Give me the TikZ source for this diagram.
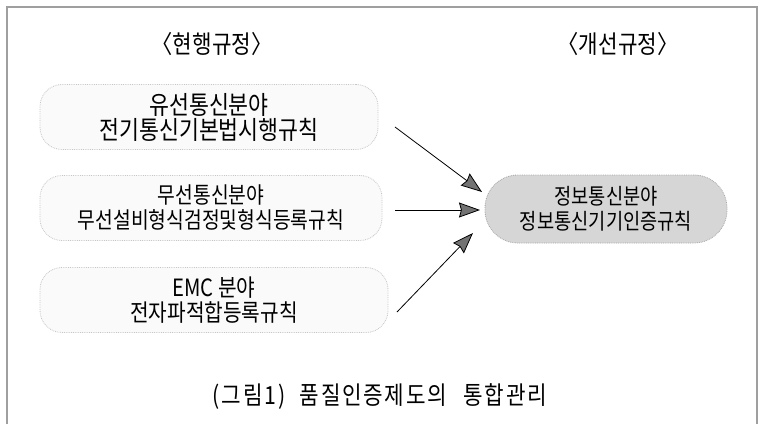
\documentclass[tikz,border=0pt]{standalone}
\usepackage{fontspec}
\setmainfont{Noto Sans CJK KR}[FakeStretch=0.85]
\usetikzlibrary{arrows.meta}
\tikzset{
  x=1pt, y=-1pt,
  srcbox/.style={draw=gray!45, densely dotted, line width=0.8pt, fill=gray!4,
    rounded corners=22pt, minimum width=#1, minimum height=65pt, inner sep=0pt,
    align=center},
  dstbox/.style={draw=gray!70, densely dotted, line width=0.8pt, fill=gray!32,
    rounded corners=33pt, minimum width=242pt, minimum height=68pt, inner sep=0pt,
    align=center, font=\fontsize{22}{25}\selectfont},
  head/.style={font=\fontsize{25}{28}\selectfont},
  arr/.style={line width=0.8pt, -{Stealth[length=21pt, width=15pt, inset=2pt, fill=black!55]}},
}
\begin{document}
\begin{tikzpicture}
\useasboundingbox (0,0) rectangle (761,424);
\fill[white] (0,0) rectangle (761,424);
\draw[gray!75, line width=1.2pt] (7,424) -- (7,7) -- (757,7) -- (757,424);

\node[head] (h1) at (212,44) {〈현행규정〉};
\node[head] (h2) at (618,44) {〈개선규정〉};

\node[srcbox=338pt, font=\fontsize{25.5}{25}\selectfont] (b1) at (209,117) {유선통신분야\\전기통신기본법시행규칙};
\node[srcbox=342pt, font=\fontsize{22.7}{25}\selectfont] (b2) at (211,208) {무선통신분야\\무선설비형식검정및형식등록규칙};
\node[srcbox=348pt, font=\fontsize{23.8}{25}\selectfont] (b3) at (214,300) {EMC 분야\\전자파적합등록규칙};

\node[dstbox] (r) at (606,209) {정보통신분야\\정보통신기기인증규칙};

\coordinate (s1) at (395,127);
\coordinate (s2) at (395,210);
\coordinate (s3) at (397,312);
\coordinate (t1) at (482,192);
\coordinate (t2) at (480,210);
\coordinate (t3) at (473,233);
\draw[arr] (s1) -- (t1);
\draw[arr] (s2) -- (t2);
\draw[arr] (s3) -- (t3);

\node[font=\fontsize{25}{28}\selectfont\addfontfeature{LetterSpace=7}] (cap) at (380,397) {(그림1)\hspace{8pt} 품질인증제도의\hspace{10pt} 통합관리};
\end{tikzpicture}
\end{document}
